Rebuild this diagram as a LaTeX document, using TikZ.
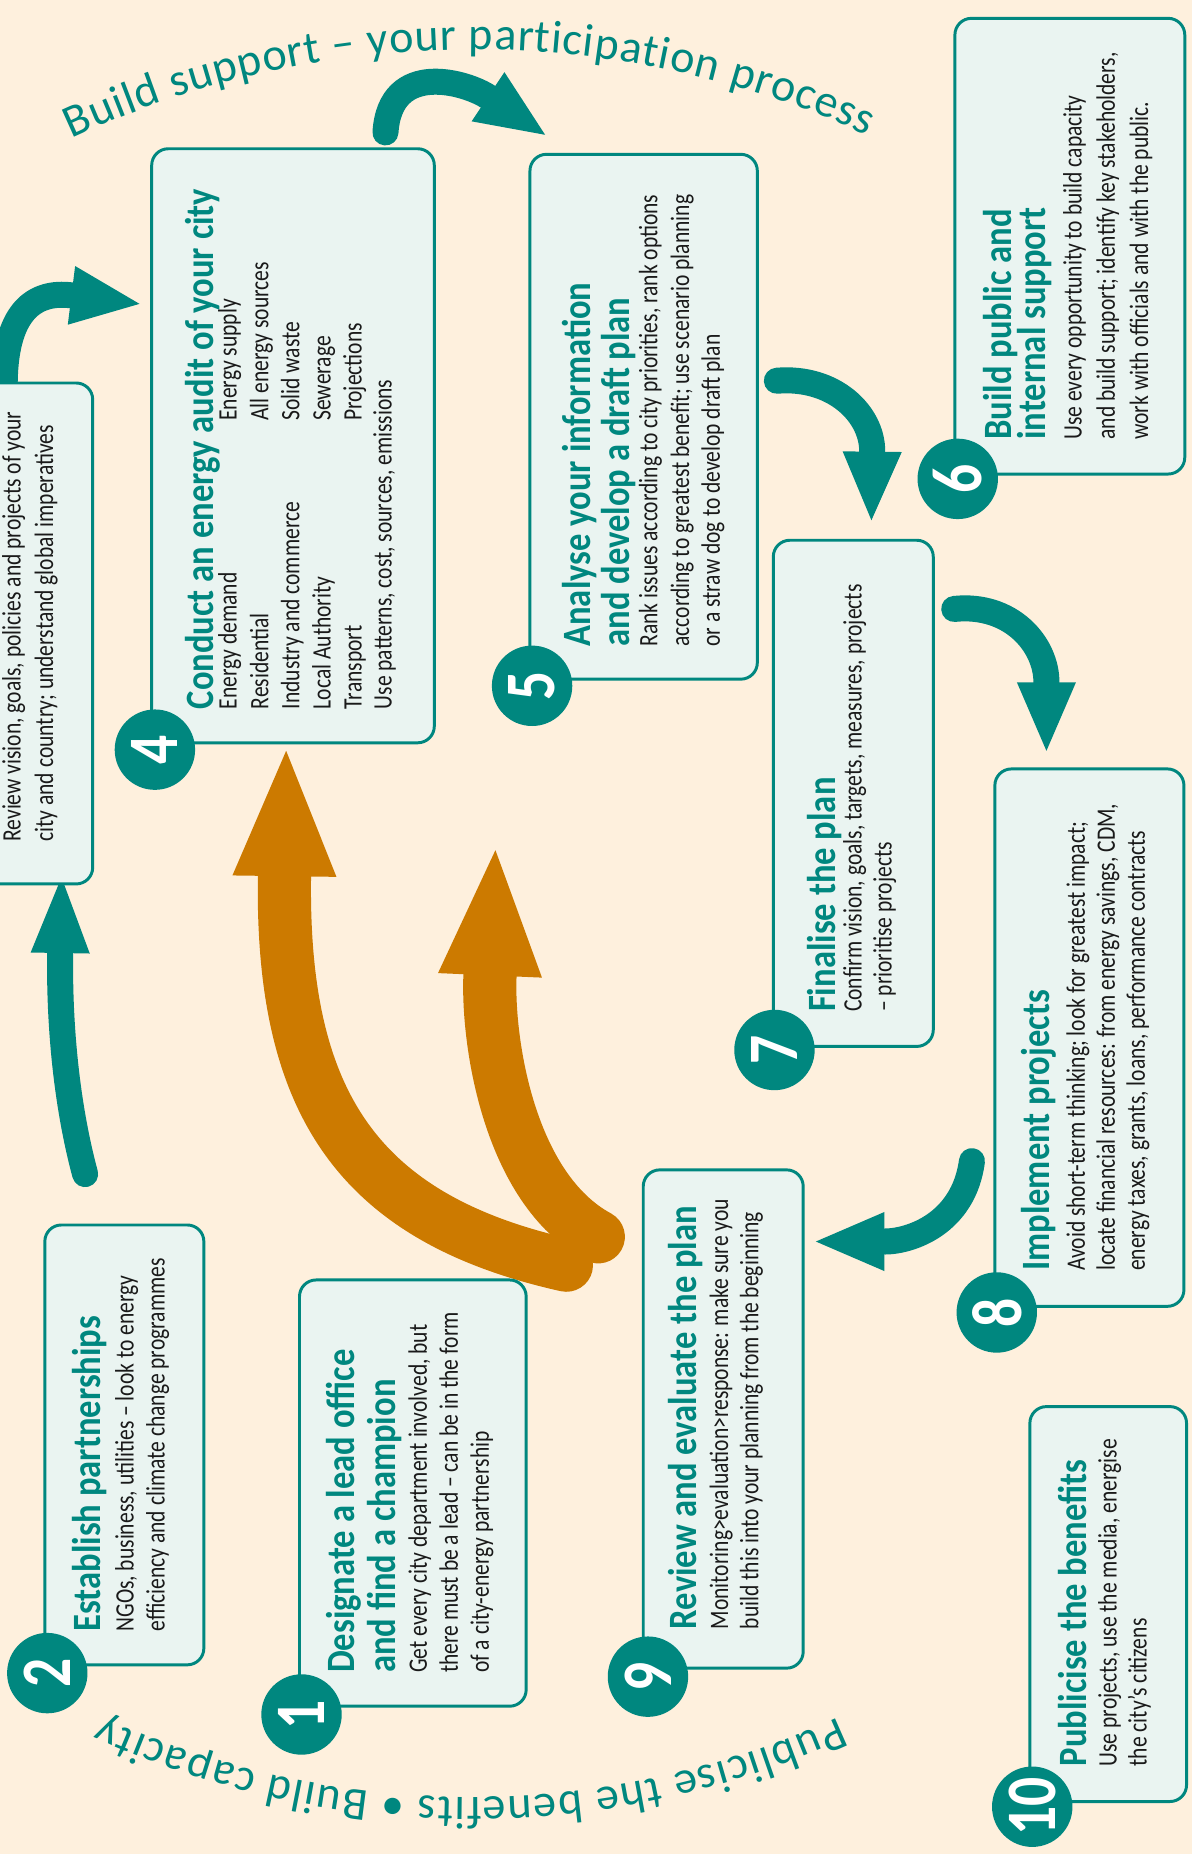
\documentclass[tikz,border=0pt]{standalone}
\usepackage{fontspec}
\setmainfont{Carlito}
\newfontfamily\mainfam{Carlito}[FakeStretch=0.81]
\newfontfamily\ttlfam{Carlito}[FakeStretch=0.86]
\newfontfamily\arcfam{Carlito}
\usetikzlibrary{arrows.meta,decorations.text}
\definecolor{tealc}{HTML}{00877F}
\definecolor{orangec}{HTML}{CC7A00}
\definecolor{bgc}{HTML}{FEF0DD}
\definecolor{boxc}{HTML}{EAF4F1}
\definecolor{bodyc}{HTML}{1A1A1A}
\newcommand\bodyf{\mainfam\fontsize{22.5}{26}\selectfont}
\newcommand\ttlf{\ttlfam\bfseries\fontsize{34}{34}\selectfont}
\newcommand\numf{\mainfam\bfseries\fontsize{60}{60}\selectfont}
\newcommand\arcf{\arcfam\fontsize{39}{44}\selectfont}
\tikzset{
 box/.style={draw=tealc, fill=boxc, line width=2.5pt, rounded corners=14pt, inner sep=0pt, rectangle},
 numc/.style={circle, fill=tealc, minimum size=68pt, inner sep=0pt, text=white, font=\numf, rotate=90},
 ttl/.style={rotate=90, anchor=base west, inner sep=0pt, text=tealc, font=\ttlf},
 bdy/.style={rotate=90, anchor=base west, inner sep=0pt, text=bodyc, font=\bodyf},
 tealarrow/.style={color=tealc, line width=22pt, line cap=round, -{Triangle[length=#1,width=50pt,line width=0pt,color=tealc,fill=tealc]}},
 tealarrow/.default=58pt,
 orangearrow/.style={color=orangec, line width=45pt, line cap=round, -{Triangle[length=106pt,width=88pt,line width=0pt,color=orangec,fill=orangec]}},
 arctext/.style={decorate, decoration={text along path, text color=tealc, text align=fit to path, text={#1}}}
}
\begin{document}
\begin{tikzpicture}[x=1pt,y=-1pt]
\useasboundingbox (0,0) rectangle (1008,1568);
\clip (0,0) rectangle (1008,1568);
\fill[bgc] (0,0) rectangle (1008,1568);

% circular captions
\path[arctext={|\arcf|Build support – your participation process}]
  (400,845) ++(-115:803) arc[start angle=-115, end angle=-65.5, radius=803];
\path[arctext={|\arcf|Publicise the benefits • Build capacity}]
  (398,770) ++(65.5:750) arc[start angle=65.5, end angle=114.5, radius=750];

% orange feedback arrows
\coordinate (o1s) at (479,1070);
\coordinate (o1e) at (242,635);
\coordinate (o2s) at (506,1046);
\coordinate (o2e) at (419,719);
\draw[orangearrow] (o1s) .. controls (300,1030) and (238,930) .. (o1e);
\draw[orangearrow] (o2s) .. controls (430,1005) and (412,880) .. (o2e);

% teal step arrows
\coordinate (a34s) at (4,330);
\coordinate (a34e) at (118,257);
\draw[tealarrow] (a34s) .. controls (3,262) and (30,246) .. (a34e);
\coordinate (a23s) at (72,993);
\coordinate (a23e) at (52,742);
\draw[tealarrow=64pt] (a23s) .. controls (55,930) and (50,860) .. (a23e);
\coordinate (a45s) at (326,112);
\coordinate (a45e) at (461,114);
\draw[tealarrow] (a45s) .. controls (330,50) and (395,70) .. (a45e);
\coordinate (a56s) at (657,322);
\coordinate (a56e) at (737,440);
\draw[tealarrow] (a56s) .. controls (705,318) and (738,350) .. (a56e);
\coordinate (a78s) at (807,515);
\coordinate (a78e) at (885,635);
\draw[tealarrow] (a78s) .. controls (855,510) and (885,545) .. (a78e);
\coordinate (a89s) at (822,982);
\coordinate (a89e) at (690,1050);
\draw[tealarrow] (a89s) .. controls (815,1035) and (770,1050) .. (a89e);

% boxes
\node[box, minimum width=160pt, minimum height=423.7pt] (box3) at (-1.6,535.75) {};
\node[box, minimum width=239pt, minimum height=502.4pt] (box4) at (247.8,377) {};
\node[box, minimum width=192.3pt, minimum height=443.9pt] (box5) at (544.35,352.45) {};
\node[box, minimum width=194.4pt, minimum height=385.4pt] (box6) at (904.8,208.2) {};
\node[box, minimum width=135.3pt, minimum height=428.1pt] (box7) at (721.65,670.95) {};
\node[box, minimum width=159.9pt, minimum height=454.5pt] (box8) at (921.35,877.55) {};
\node[box, minimum width=135.3pt, minimum height=421.4pt] (box9) at (611.65,1200.1) {};
\node[box, minimum width=132.5pt, minimum height=334pt] (box10) at (937.25,1356.6) {};
\node[box, minimum width=134.5pt, minimum height=372pt] (box2) at (105.15,1222) {};
\node[box, minimum width=191.7pt, minimum height=360.5pt] (box1) at (349.15,1262.75) {};

% number discs
\node[numc] (n4) at (131,634) {4};
\node[numc] (n5) at (450,580) {5};
\node[numc] (n6) at (810,405) {6};
\node[numc] (n7) at (655,888) {7};
\node[numc] (n8) at (843,1110) {8};
\node[numc] (n9) at (548,1418) {9};
\node[numc] (n10) at (873,1528) {10};
\node[numc] (n2) at (40,1415) {2};
\node[numc] (n1) at (255,1450) {1};

% box 3
\node[bdy] (t3a) at (17.5,712) {Review vision, goals, policies and projects of your};
\node[bdy] (t3b) at (45,712) {city and country; understand global imperatives};

% box 4
\node[ttl] (t4t) at (180.4,600) {Conduct an energy audit of your city};
\node[bdy] (t4a) at (200.1,600) {Energy demand};
\node[bdy] (t4b) at (226.9,600) {Residential};
\node[bdy] (t4c) at (253.1,600) {Industry and commerce};
\node[bdy] (t4d) at (279.6,600) {Local Authority};
\node[bdy] (t4e) at (305.8,600) {Transport};
\node[bdy] (t4f) at (331.2,600) {Use patterns, cost, sources, emissions};
\node[bdy] (t4g) at (200.1,356) {Energy supply};
\node[bdy] (t4h) at (226.9,356) {All energy sources};
\node[bdy] (t4i) at (253.1,356) {Solid waste};
\node[bdy] (t4j) at (279.6,356) {Sewerage};
\node[bdy] (t4k) at (305.8,356) {Projections};

% box 5
\node[ttl] (t5t) at (499.8,547) {Analyse your information};
\node[ttl] (t5u) at (532.8,547) {and develop a draft plan};
\node[bdy] (t5a) at (555.9,547) {Rank issues according to city priorities, rank options};
\node[bdy] (t5b) at (582.9,547) {according to greatest benefit; use scenario planning};
\node[bdy] (t5c) at (608.9,547) {or a straw dog to develop draft plan};

% box 6
\node[ttl] (t6t) at (855.5,372) {Build public and};
\node[ttl] (t6u) at (884.6,372) {internal support};
\node[bdy] (t6a) at (914.7,372) {Use every opportunity to build capacity};
\node[bdy] (t6b) at (942.9,372) {and build support; identify key stakeholders,};
\node[bdy] (t6c) at (971.1,372) {work with officials and with the public.};

% box 7
\node[ttl] (t7t) at (707,856) {Finalise the plan};
\node[bdy] (t7a) at (728.7,856) {Confirm vision, goals, targets, measures, projects};
\node[bdy] (t7b) at (754,856) {– prioritise projects};

% box 8
\node[ttl] (t8t) at (887.4,1075) {Implement projects};
\node[bdy] (t8a) at (917.5,1075) {Avoid short-term thinking; look for greatest impact;};
\node[bdy] (t8b) at (942.9,1075) {locate financial resources: from energy savings, CDM,};
\node[bdy] (t8c) at (968.3,1075) {energy taxes, grants, loans, performance contracts};

% box 9
\node[ttl] (t9t) at (589.1,1378) {Review and evaluate the plan};
\node[bdy] (t9a) at (615.9,1378) {Monitoring>evaluation>response: make sure you};
\node[bdy] (t9b) at (641.3,1378) {build this into your planning from the beginning};

% box 10
\node[ttl] (t10t) at (919,1494) {Publicise the benefits};
\node[bdy] (t10a) at (944.4,1494) {Use projects, use the media, energise};
\node[bdy] (t10b) at (969.7,1494) {the city’s citizens};

% box 2
\node[ttl] (t2t) at (85,1380) {Establish partnerships};
\node[bdy] (t2a) at (113,1380) {NGOs, business, utilities – look to energy};
\node[bdy] (t2b) at (139.2,1380) {efficiency and climate change programmes};

% box 1
\node[ttl] (t1t) at (300,1415) {Designate a lead office};
\node[ttl] (t1u) at (334.3,1415) {and find a champion};
\node[bdy] (t1a) at (361.1,1415) {Get every city department involved, but};
\node[bdy] (t1b) at (387.3,1415) {there must be a lead – can be in the form};
\node[bdy] (t1c) at (413.5,1415) {of a city-energy partnership};
\end{tikzpicture}
\end{document}
